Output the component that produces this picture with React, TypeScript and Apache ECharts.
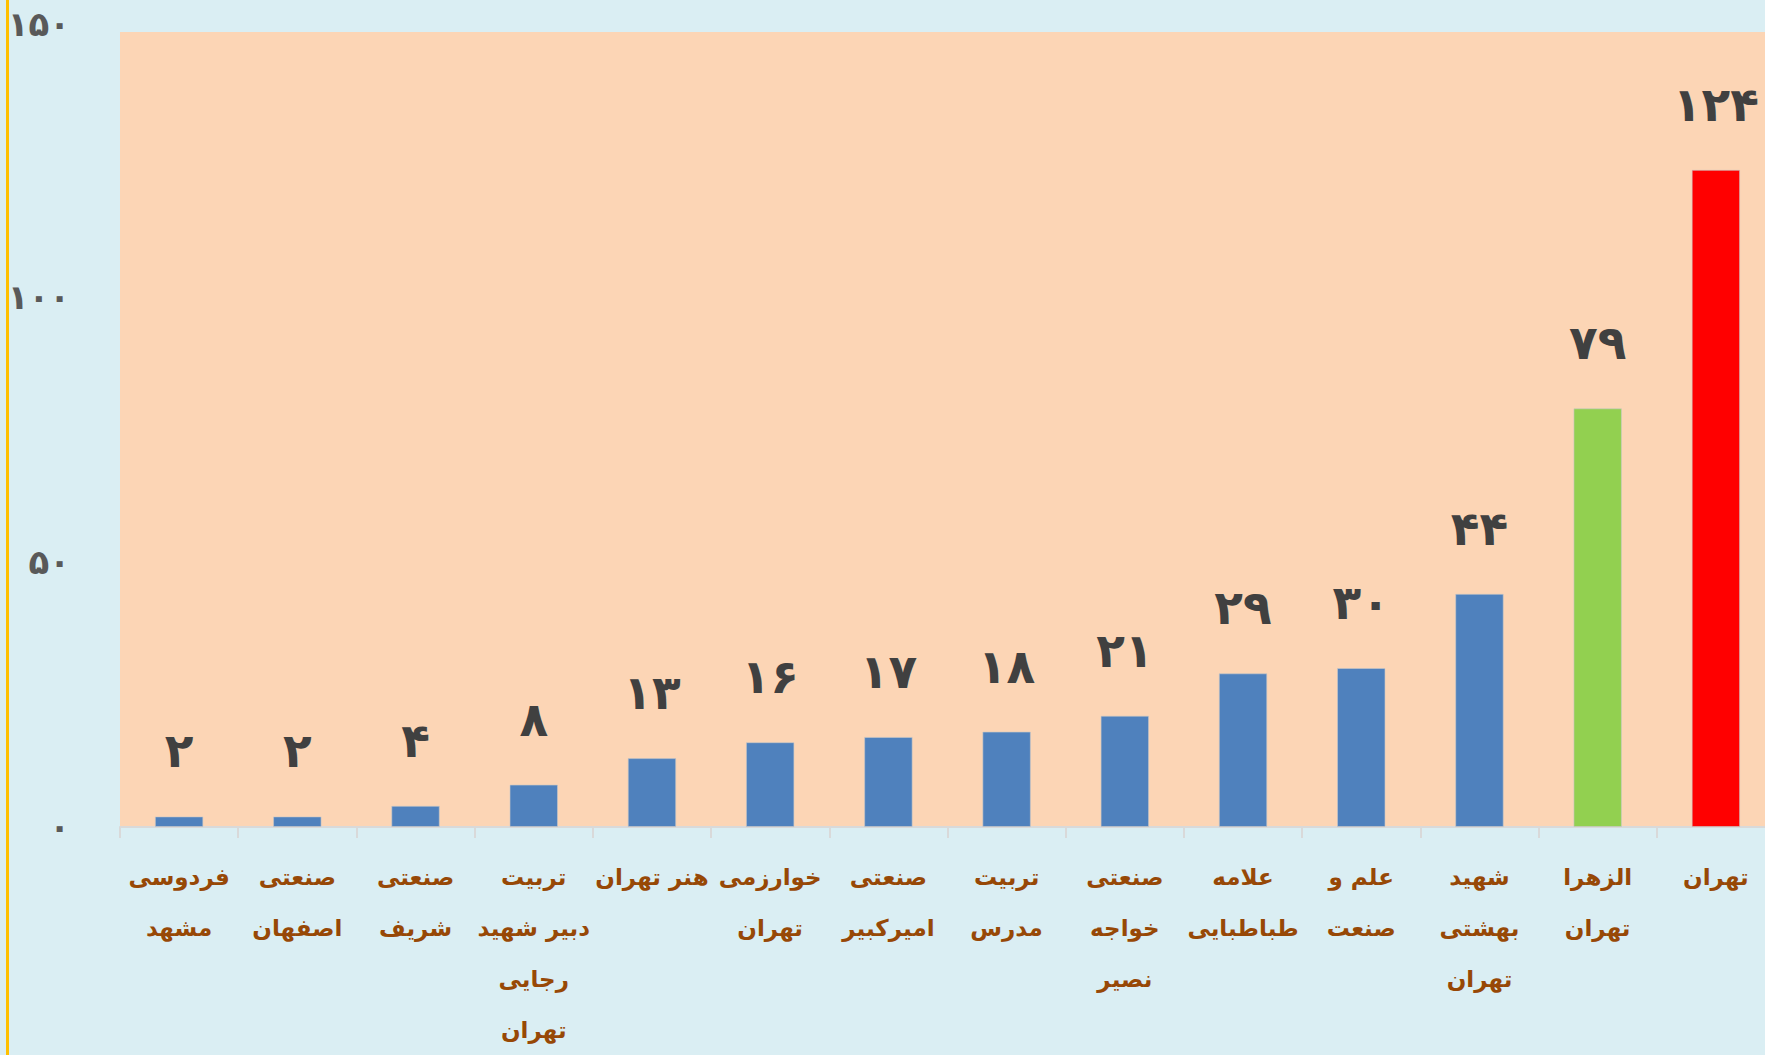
import React, { useEffect, useRef } from "react";
import * as echarts from "echarts";

const categories = [
  "فردوسی\nمشهد",
  "صنعتی\nاصفهان",
  "صنعتی\nشریف",
  "تربیت\nدبیر شهید\nرجایی\nتهران",
  "هنر تهران",
  "خوارزمی\nتهران",
  "صنعتی\nامیرکبیر",
  "تربیت\nمدرس",
  "صنعتی\nخواجه\nنصیر",
  "علامه\nطباطبایی",
  "علم و\nصنعت",
  "شهید\nبهشتی\nتهران",
  "الزهرا\nتهران",
  "تهران",
];

const values = [2, 2, 4, 8, 13, 16, 17, 18, 21, 29, 30, 44, 79, 124];

const barColors = [
  "#4F81BD", "#4F81BD", "#4F81BD", "#4F81BD", "#4F81BD", "#4F81BD", "#4F81BD",
  "#4F81BD", "#4F81BD", "#4F81BD", "#4F81BD", "#4F81BD", "#92D050", "#FF0000",
];

const yTicks = [0, 50, 100, 150];

const faDigits = "۰۱۲۳۴۵۶۷۸۹";
const toFa = (v: number | string) =>
  String(v).replace(/\d/g, (d) => faDigits[Number(d)]);

export default function App() {
  const ref = useRef<HTMLDivElement>(null);

  useEffect(() => {
    if (!ref.current) return;
    const chart = echarts.init(ref.current, null, { renderer: "svg" });
    chart.setOption({
      animation: false,
      backgroundColor: "#DAEEF3",
      grid: {
        left: 120,
        right: 10,
        top: 32,
        bottom: 223,
        show: true,
        backgroundColor: "#FCD5B5",
        borderWidth: 0,
      },
      graphic: [
        {
          type: "rect",
          left: 6,
          top: 0,
          shape: { width: 3, height: 1055 },
          style: { fill: "#FFC000" },
          z: 100,
        },
      ],
      xAxis: {
        type: "category",
        data: categories,
        axisLine: { show: true, lineStyle: { color: "#D9D9D9", width: 2 } },
        axisTick: {
          show: true,
          length: 11,
          alignWithLabel: false,
          lineStyle: { color: "#D9D9D9", width: 2 },
        },
        axisLabel: {
          interval: 0,
          margin: 24,
          color: "#974806",
          fontFamily: "DejaVu Sans",
          fontWeight: "bold",
          fontSize: 23,
          lineHeight: 51,
        },
      },
      yAxis: {
        type: "value",
        min: 0,
        max: 150,
        interval: 50,
        axisLine: { show: false },
        axisTick: { show: false },
        splitLine: { show: false },
        axisLabel: {
          margin: 50,
          color: "#595959",
          fontFamily: "DejaVu Sans",
          fontWeight: "bold",
          fontSize: 34,
          formatter: (v: number) => {
            if (!yTicks.includes(v)) return "";
            return v === 150 ? "{top|" + toFa(v) + "}" : toFa(v);
          },
          rich: {
            top: {
              color: "#595959",
              fontFamily: "DejaVu Sans",
              fontWeight: "bold",
              fontSize: 34,
              padding: [0, 0, 16, 0],
            },
          },
        },
      },
      series: [
        {
          type: "bar",
          barWidth: "41%",
          data: values.map((v, i) => ({
            value: v,
            itemStyle: { color: barColors[i] },
          })),
          itemStyle: { borderColor: "rgba(200,200,200,0.6)", borderWidth: 1 },
          label: {
            show: true,
            position: "top",
            distance: 42,
            color: "#404040",
            fontFamily: "DejaVu Sans",
            fontWeight: "bold",
            fontSize: 47,
            formatter: (p: any) => toFa(p.value),
          },
        },
      ],
    });
    return () => chart.dispose();
  }, []);

  return (
    <div
      style={{
        position: "fixed",
        left: 0,
        top: 0,
        width: 1765,
        height: 1055,
        overflow: "hidden",
        background: "#DAEEF3",
      }}
    >
      <div ref={ref} style={{ width: 1785, height: 1055 }} />
    </div>
  );
}
